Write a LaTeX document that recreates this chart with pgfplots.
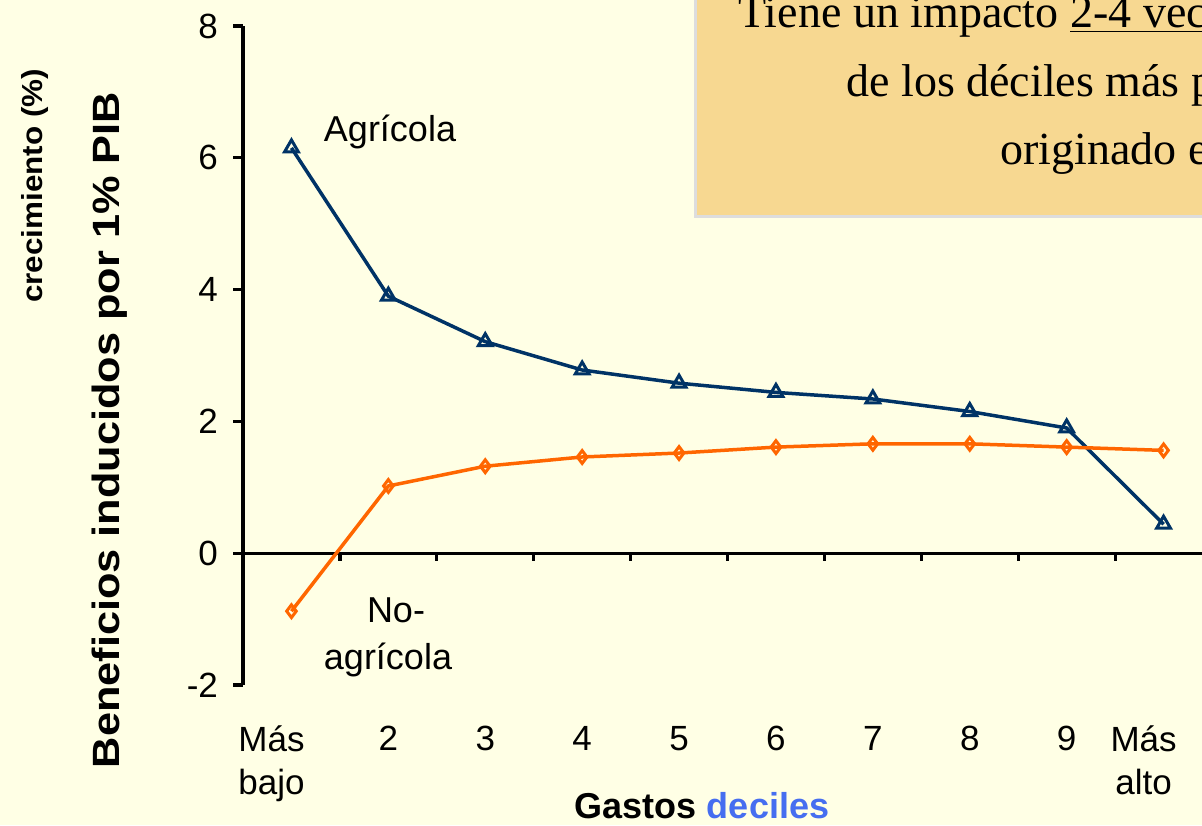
\documentclass[border=0pt]{standalone}
\usepackage{pgfplots}
\pgfplotsset{compat=1.18}
\usepackage{fontspec}
\setmainfont{Liberation Sans}
\newfontfamily\serifgar{Liberation Serif}
\usepackage{graphicx}
\definecolor{bg}{RGB}{255,255,229}
\definecolor{navy}{RGB}{0,51,102}
\definecolor{orng}{RGB}{255,102,0}
\definecolor{boxc}{RGB}{247,216,145}
\definecolor{boxe}{RGB}{221,221,221}
\definecolor{blu}{RGB}{70,110,240}

\pgfplotstableread{
x y
0 6.15
1 3.90
2 3.21
3 2.78
4 2.58
5 2.44
6 2.34
7 2.15
8 1.90
9 0.44
}\agri
\pgfplotstableread{
x y
0 -0.88
1 1.02
2 1.32
3 1.46
4 1.52
5 1.61
6 1.66
7 1.66
8 1.61
9 1.56
}\noagri

\begin{document}
\begin{tikzpicture}
\path[use as bounding box] (0,0) rectangle (601pt,412.5pt);
\clip (0,0) rectangle (601pt,412.5pt);
\fill[bg] (0,0) rectangle (601pt,412.5pt);
% text box
\filldraw[fill=boxc, draw=boxe, line width=1.5pt] (347.5pt,304pt) rectangle (615pt,425pt);
\begin{scope}[every node/.style={anchor=base west, inner sep=0pt, font=\serifgar\fontsize{23}{27}\selectfont}]
\node at (369pt,398.5pt) {Tiene un impacto \underline{2-4 veces} mayor en el gasto};
\node at (423pt,364pt) {de los déciles más pobres, cuando es};
\node at (500pt,330pt) {originado en la agricultura};
\end{scope}

\begin{axis}[
  at={(121.5pt,70pt)}, anchor=south west,
  scale only axis, width=484.5pt, height=329.5pt,
  xmin=-0.5, xmax=9.5, ymin=-2, ymax=8,
  axis y line*=left, axis x line*=bottom,
  x axis line style={draw=none},
  y axis line style={line width=1.6pt, black},
  xtick={1,...,8},
  xticklabels={2,3,4,5,6,7,8,9},
  xticklabel style={align=center, font=\fontsize{17.5}{21.5}\selectfont, yshift=-12pt},
  xtick style={draw=none},
  extra x ticks={0,9},
  extra x tick labels={{Más\\bajo},{Más\\alto}},
  extra x tick style={xtick style={draw=none}, xticklabel style={xshift=-10pt}},
  ytick={-2,0,2,4,6,8},
  yticklabel style={font=\fontsize{17.5}{21}\selectfont, xshift=-4pt},
  ytick style={black, line width=1.6pt},
  tick align=outside, major tick length=5pt,
  /pgf/number format/assume math mode=true,
  clip=false,
]
\draw[line width=1.6pt, black] (axis cs:-0.5,0) -- (axis cs:9.5,0);
\pgfplotsinvokeforeach{0.5,1.5,2.5,3.5,4.5,5.5,6.5,7.5,8.5}{
  \draw[line width=1.6pt, black] (axis cs:#1,0) -- ++(0pt,-4pt);
}
\addplot[navy, line width=1.75pt, mark=triangle, mark size=4pt, mark options={solid, fill=bg, line width=1.5pt}] table[x=x,y=y]{\agri};
\addplot[orng, line width=1.75pt, mark=diamond, mark size=3.2pt, mark options={solid, fill=bg, line width=1.5pt}] table[x=x,y=y]{\noagri};
\end{axis}

\node[anchor=base, font=\fontsize{18}{21}\selectfont] at (195pt,341.5pt) {Agrícola};
\node[anchor=base, font=\fontsize{18}{21}\selectfont] at (198pt,101.5pt) {No-};
\node[anchor=base, font=\fontsize{18}{21}\selectfont] at (194pt,78pt) {agrícola};
\node[anchor=base, font=\fontsize{18}{21}\selectfont\bfseries] at (351pt,3.5pt) {Gastos \textcolor{blu}{deciles}};
\node[rotate=90, inner sep=0pt] at (55pt,197.5pt) {\resizebox{338pt}{\height}{\fontsize{19}{22}\selectfont\bfseries Beneficios inducidos por 1\% PIB}};
\node[rotate=90, inner sep=0pt] at (17.5pt,319.5pt) {\resizebox{117pt}{\height}{\fontsize{14.5}{17}\selectfont\bfseries crecimiento (\%)}};
\end{tikzpicture}
\end{document}
